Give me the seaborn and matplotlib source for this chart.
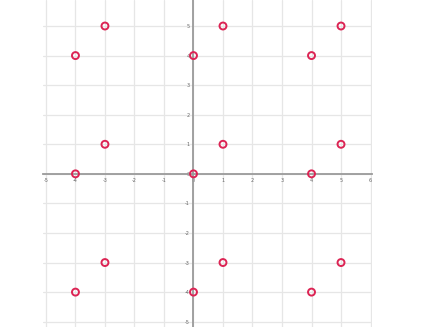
import matplotlib
matplotlib.use("Agg")
import matplotlib.pyplot as plt
import pandas as pd
import seaborn as sns

# points
x_vals = [-3, 1, 5, -4, 0, 4, -3, 1, 5, -4, 0, 4, -3, 1, 5, -4, 0, 4]
y_vals = [5, 5, 5, 4, 4, 4, 1, 1, 1, 0, 0, 0, -3, -3, -3, -4, -4, -4]
x_ticks = list(range(-5, 7))
y_ticks = list(range(-5, 6))

df = pd.DataFrame({"x": x_vals, "y": y_vals})

sns.set_style("white")
plt.rcParams["axes.unicode_minus"] = False
fig = plt.figure(figsize=(4.23, 3.27), dpi=100)
ax = fig.add_axes([43 / 423, 0, (372 - 43) / 423, 1])

sns.scatterplot(data=df, x="x", y="y", ax=ax, marker="o", s=25,
                facecolors="none", edgecolor="#dc2454", linewidth=1.4, zorder=5)

ax.set_xlim(-5.1, 6.05)
ax.set_ylim(-5.18, 5.88)
ax.set_xticks(x_ticks)
ax.set_yticks(y_ticks)
ax.grid(True, color="#e6e6e6", linewidth=0.9)
ax.set_axisbelow(True)

for side in ["top", "right"]:
    ax.spines[side].set_visible(False)
ax.spines["left"].set_position("zero")
ax.spines["bottom"].set_position("zero")
for side in ["left", "bottom"]:
    ax.spines[side].set_color("#9a9a9a")
    ax.spines[side].set_linewidth(1.3)

ax.tick_params(axis="both", direction="inout", length=2.5, width=0.6,
               color="#9a9a9a", labelsize=3.5, labelcolor="#666666", pad=1.5)
ax.set_xlabel("")
ax.set_ylabel("")

fig.savefig("out.png", dpi=100)
